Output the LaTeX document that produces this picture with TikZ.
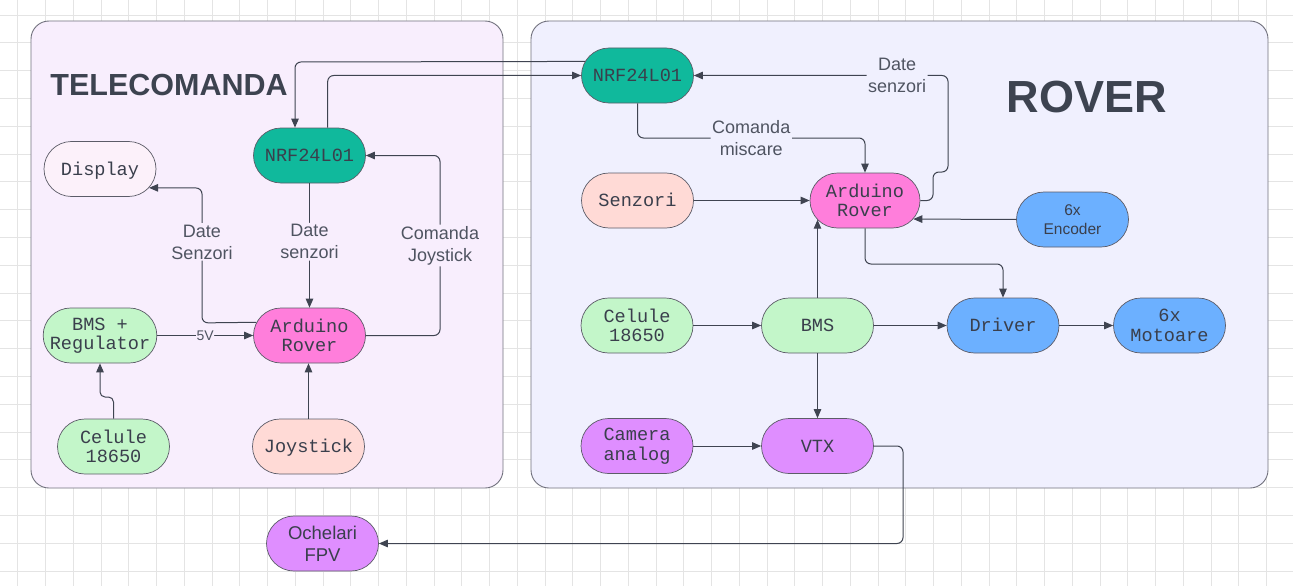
\documentclass[tikz,border=0pt]{standalone}
\usepackage{fontspec}
\setmainfont{Liberation Sans}
\newfontfamily\monof{Liberation Mono}
\usetikzlibrary{shapes.misc,arrows.meta}
\definecolor{gridc}{HTML}{E4E4E4}
\definecolor{contline}{HTML}{72727E}
\definecolor{tcfill}{HTML}{F8EEFD}
\definecolor{rvfill}{HTML}{F0F0FE}
\definecolor{nodeline}{HTML}{5C5C68}
\definecolor{edgec}{HTML}{3F4451}
\definecolor{txtc}{HTML}{3A3F4C}
\definecolor{lblc}{HTML}{4F5461}
\definecolor{titlec}{HTML}{3D4350}
\definecolor{teal}{HTML}{10B99C}
\definecolor{mag}{HTML}{FF7EDB}
\definecolor{lgreen}{HTML}{C3F6C9}
\definecolor{salmon}{HTML}{FFDAD6}
\definecolor{pale}{HTML}{FCF1FA}
\definecolor{bluec}{HTML}{6CB0FF}
\definecolor{purp}{HTML}{DF8EFF}
\begin{document}
\begin{tikzpicture}[x=1pt,y=-1pt,
  box/.style={rounded rectangle, draw=nodeline, line width=0.7pt, minimum width=112, minimum height=55, inner sep=0pt, align=center, text=txtc, font=\monof\fontsize{18.6}{19.5}\selectfont},
  one/.style={text height=12.3pt, text depth=0pt},
  sbox/.style={box, font=\fontsize{18.5}{22}\selectfont},
  conn/.style={draw=edgec, line width=1pt, rounded corners=6pt, -{Triangle[length=9pt,width=7.5pt]}},
  lblT/.style={fill=tcfill, inner sep=1.5pt, align=center, text=lblc, font=\fontsize{18}{22}\selectfont},
  lblR/.style={lblT, fill=rvfill},
  cont/.style={draw=contline, line width=0.9pt, rounded corners=18pt}
]
\useasboundingbox (0,0) rectangle (1293,586);
\fill[white] (0,0) rectangle (1293,586);
\foreach \i in {0,...,46} \draw[gridc, line width=0.8pt] ({17.7+27.75*\i},0) -- ({17.7+27.75*\i},586);
\foreach \j in {0,...,20} \draw[gridc, line width=0.8pt] (0,{15+27.8*\j}) -- (1293,{15+27.8*\j});

% containers
\draw[cont, fill=tcfill] (31,21) rectangle (503,488);
\draw[cont, fill=rvfill] (531,21) rectangle (1268,488);
\node[text=titlec, font=\bfseries\fontsize{30.5}{32}\selectfont] (ttl) at (169,85) {TELECOMANDA};
\node[text=titlec, font=\bfseries\fontsize{45}{48}\selectfont] (rtl) at (1087,97) {ROVER};

% telecomanda nodes
\node[box, one, fill=teal] (nrfL) at (309.5,155.5) {NRF24L01};
\node[box, one, fill=pale] (disp) at (100,169) {Display};
\node[box, fill=lgreen] (bmsL) at (100,335.5) {BMS +\\Regulator};
\node[box, fill=mag] (ardL) at (309.5,335.5) {Arduino\\Rover};
\node[box, fill=lgreen] (celL) at (113.5,446.5) {Celule\\18650};
\node[box, one, fill=salmon] (joy) at (308.5,446.5) {Joystick};

% rover nodes
\node[box, one, fill=teal] (nrfR) at (637.5,75.5) {NRF24L01};
\node[box, one, fill=salmon] (senz) at (637.5,200.5) {Senzori};
\node[box, fill=mag, minimum width=110] (ardR) at (865,200.5) {Arduino\\Rover};
\node[box, fill=bluec, font=\fontsize{15.5}{18.7}\selectfont] (enc) at (1072.5,219.5) {6x\\Encoder};
\node[box, fill=lgreen] (celR) at (637,325.5) {Celule\\18650};
\node[box, one, fill=lgreen] (bmsR) at (817.5,325.5) {BMS};
\node[box, one, fill=bluec] (drv) at (1003,325.5) {Driver};
\node[box, fill=bluec] (mot) at (1169.5,325.5) {6x\\Motoare};
\node[box, fill=purp] (cam) at (637,446) {Camera\\analog};
\node[box, one, fill=purp] (vtx) at (817.5,446) {VTX};
\node[sbox, fill=purp] (och) at (322.5,543.5) {Ochelari\\FPV};

% helper coordinates
\coordinate (k1) at (295,62);
\coordinate (k2) at (327.7,75.5);
\coordinate (k4a) at (440,335.5);
\coordinate (k4b) at (440,155.5);
\coordinate (k5a) at (202,322.9);
\coordinate (k5b) at (202,188);
\coordinate (k7a) at (113.5,397);
\coordinate (k7b) at (100,397);
\coordinate (k9a) at (637.5,138);
\coordinate (k9b) at (865,138);
\coordinate (k10a) at (933,200.5);
\coordinate (k10b) at (933,172);
\coordinate (k10c) at (948,172);
\coordinate (k10d) at (948,75.5);
\coordinate (k13a) at (865,264);
\coordinate (k13b) at (1003,264);
\coordinate (k20a) at (903,446);
\coordinate (k20b) at (903,543.5);

% telecomanda connectors
\draw[conn] (nrfR.165.7) -- (k1) -- (k1 |- nrfL.north);
\draw[conn] (k2 |- nrfL.north) -- (k2) -- (nrfR.west);
\draw[conn] (nrfL.south) -- node[lblT, pos=0.47] (l3) {Date\\senzori} (ardL.north);
\draw[conn] (ardL.east) -- (k4a) -- node[lblT, pos=0.5] (l4) {Comanda\\Joystick} (k4b) -- (nrfL.east);
\draw[conn] (ardL.166.7) -- (k5a) -- node[lblT, pos=0.6] (l5) {Date\\Senzori} (k5b) -- (disp.-21.4);
\draw[conn] (bmsL.east) -- node[lblT, inner sep=0.5pt, font=\fontsize{14}{16}\selectfont] (l6) {5V} (ardL.west);
\draw[conn, rounded corners=5pt] (celL.north) -- (k7a) -- (k7b) -- (bmsL.south);
\draw[conn] (joy.north) -- (joy.north |- ardL.south);

% rover connectors
\draw[conn] (nrfR.south) -- (k9a) -- node[lblR] (l9) {Comanda\\miscare} (k9b) -- (ardR.north);
\draw[conn] (ardR.east) -- (k10a) -- (k10b) -- (k10c) -- (k10d) -- node[lblR, pos=0.2] (l10) {Date\\senzori} (nrfR.east);
\draw[conn] (senz.east) -- (ardR.west);
\draw[conn] (enc.west) -- (ardR.-21.8);
\draw[conn] (ardR.south) -- (k13a) -- (k13b) -- (drv.north);
\draw[conn] (bmsR.north) -- (bmsR.north |- ardR.-158.3);
\draw[conn] (bmsR.east) -- (drv.west);
\draw[conn] (drv.east) -- (mot.west);
\draw[conn] (celR.east) -- (bmsR.west);
\draw[conn] (bmsR.south) -- (vtx.north);
\draw[conn] (cam.east) -- (vtx.west);
\draw[conn] (vtx.east) -- (k20a) -- (k20b) -- (och.east);
\end{tikzpicture}
\end{document}
